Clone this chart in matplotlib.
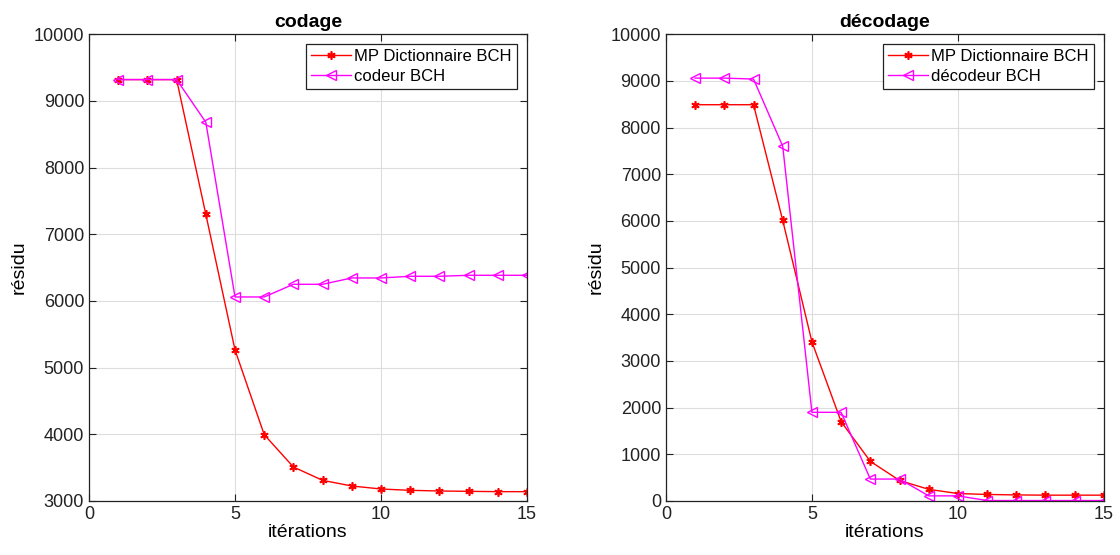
import numpy as np
import matplotlib.pyplot as plt

plt.rcParams['font.family'] = ['Liberation Sans', 'DejaVu Sans']

iterations = np.arange(1, 16)

# codage
mp_codage = [9320, 9320, 9320, 7300, 5265, 3995, 3510, 3310, 3225, 3180, 3160, 3150, 3145, 3140, 3140]
codeur_bch = [9320, 9320, 9320, 8680, 6060, 6060, 6250, 6250, 6345, 6345, 6370, 6370, 6385, 6385, 6385]

# décodage
mp_decodage = [8490, 8490, 8490, 6010, 3410, 1700, 850, 440, 250, 160, 140, 130, 125, 125, 125]
decodeur_bch = [9060, 9060, 9040, 7600, 1900, 1900, 470, 470, 110, 110, 10, 10, 10, 10, 10]

panels = [
    ("codage", mp_codage, codeur_bch, "codeur BCH", (3000, 10000)),
    ("décodage", mp_decodage, decodeur_bch, "décodeur BCH", (0, 10000)),
]

fig = plt.figure(figsize=(11.2, 5.55), dpi=100)
lefts = [0.0795, 0.5946]

for left, (title, mp, other, other_label, ylim) in zip(lefts, panels):
    ax = fig.add_axes([left, 0.0973, 0.391, 0.841])
    # asterisk marker like matlab's '*'
    ax.plot(iterations, mp, color='red', marker=(6, 2, 0), markersize=6,
            markeredgewidth=1.2, linewidth=1, label='MP Dictionnaire BCH')
    ax.plot(iterations, other, color='magenta', marker='<', markersize=7.5,
            markerfacecolor='none', linewidth=1, label=other_label)
    ax.set_xlim(0, 15)
    ax.set_ylim(*ylim)
    ax.set_xticks([0, 5, 10, 15])
    ax.set_yticks(np.arange(ylim[0], ylim[1] + 1, 1000))
    ax.grid(True, color='#dddddd', linewidth=0.8)
    ax.set_axisbelow(True)
    ax.tick_params(direction='in', top=True, right=True, labelsize=13, length=5,
                   colors='#222222')
    for s in ax.spines.values():
        s.set_color('#222222')
        s.set_linewidth(0.9)
    ax.set_title(title, fontsize=14, fontweight='bold', pad=5)
    ax.set_xlabel('itérations', fontsize=14, labelpad=1)
    ax.set_ylabel('résidu', fontsize=14)
    leg = ax.legend(loc='upper right', fontsize=12, fancybox=False, framealpha=1,
                    edgecolor='#222222', borderaxespad=0.6, handlelength=2.4,
                    borderpad=0.3, labelspacing=0.3, handletextpad=0.2)
    leg.get_frame().set_linewidth(0.9)

fig.savefig('out.png', dpi=100)
